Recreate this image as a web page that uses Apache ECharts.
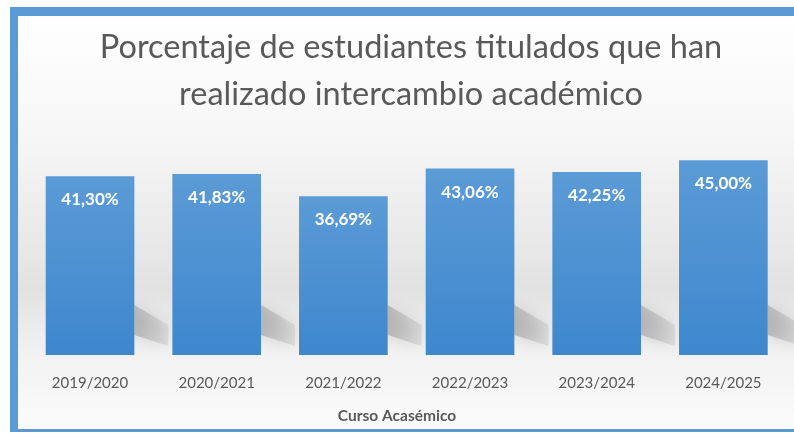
<!DOCTYPE html>
<html>
<head>
<meta charset="utf-8">
<script src="https://cdn.jsdelivr.net/npm/echarts@6/dist/echarts.min.js"></script>
<style>
html,body{margin:0;padding:0;background:#ffffff;}
#chart{width:794px;height:435px;}
</style>
</head>
<body>
<div id="chart"></div>
<script>
const titleText = 'Porcentaje de estudiantes titulados que han\nrealizado intercambio académico';
const axisTitle = 'Curso Acasémico';
const categories = ['2019/2020', '2020/2021', '2021/2022', '2022/2023', '2023/2024', '2024/2025'];
const values = [41.30, 41.83, 36.69, 43.06, 42.25, 45.00];

const chart = echarts.init(document.getElementById('chart'), null, {renderer: 'canvas'});
const BAR_FRAC = 0.70;

const option = {
  animation: false,
  backgroundColor: '#ffffff',
  graphic: [
    {type: 'rect', z: -10, silent: true, shape: {x: 18, y: 16, width: 776, height: 413},
      style: {fill: new echarts.graphic.LinearGradient(0, 0, 0, 1, [
        {offset: 0, color: '#ffffff'},
        {offset: 0.3, color: '#f6f6f6'},
        {offset: 0.66, color: '#e2e2e2'},
        {offset: 0.82, color: '#f2f2f2'},
        {offset: 1, color: '#fbfbfb'}
      ])}},
    {type: 'rect', z: 100, silent: true, shape: {x: 10, y: 7, width: 8, height: 425}, style: {fill: '#5b9bd5'}},
    {type: 'rect', z: 100, silent: true, shape: {x: 10, y: 7, width: 784, height: 9}, style: {fill: '#5b9bd5'}},
    {type: 'rect', z: 100, silent: true, shape: {x: 10, y: 429, width: 784, height: 3}, style: {fill: '#5b9bd5'}}
  ],
  title: [
    {text: titleText, left: 406, top: 19, textAlign: 'center',
      textStyle: {fontFamily: 'Lato', fontSize: 32.5, fontWeight: 'normal', color: '#595959', lineHeight: 47}},
    {text: axisTitle, left: 392, top: 403, textAlign: 'center',
      textStyle: {fontFamily: 'Lato', fontSize: 15.5, fontWeight: 'bold', color: '#595959'}}
  ],
  grid: {left: 26.7, right: 7.3, top: 138.5, bottom: 80, containLabel: false},
  xAxis: {
    type: 'category', data: categories,
    axisLine: {show: false}, axisTick: {show: false},
    axisLabel: {color: '#595959', fontFamily: 'Lato', fontSize: 15, margin: 21}
  },
  yAxis: {type: 'value', min: 0, max: 50, show: false, splitLine: {show: false}},
  series: [
    {
      type: 'custom', z: 1, silent: true,
      data: values.map((v, i) => [i, v]),
      renderItem: function (params, api) {
        const base = api.coord([api.value(0), 0]);
        const bw = api.size([1, 0])[0] * BAR_FRAC;
        const xr = base[0] + bw / 2;
        const y0 = base[1];
        return {
          type: 'polygon',
          shape: {points: [[xr, y0 - 50], [xr + 34, y0 - 30], [xr + 34, y0 - 9], [xr, y0 - 20]]},
          style: {
            fill: new echarts.graphic.LinearGradient(0, 0, 1, 0, [
              {offset: 0, color: 'rgba(150,150,150,0.55)'},
              {offset: 1, color: 'rgba(170,170,170,0.25)'}
            ]),
            shadowBlur: 16, shadowColor: 'rgba(150,150,150,0.7)'
          }
        };
      }
    },
    {
      type: 'bar', z: 2, data: values, barWidth: (BAR_FRAC * 100) + '%',
      itemStyle: {color: new echarts.graphic.LinearGradient(0, 0, 0, 1, [
        {offset: 0, color: '#5b9bd6'},
        {offset: 1, color: '#3e87cd'}
      ])},
      label: {
        show: true, position: 'insideTop', distance: 15,
        color: '#ffffff', fontFamily: 'Lato', fontWeight: 'bold', fontSize: 17,
        formatter: p => p.value.toFixed(2).replace('.', ',') + '%'
      }
    }
  ]
};
chart.setOption(option);
</script>
</body>
</html>
